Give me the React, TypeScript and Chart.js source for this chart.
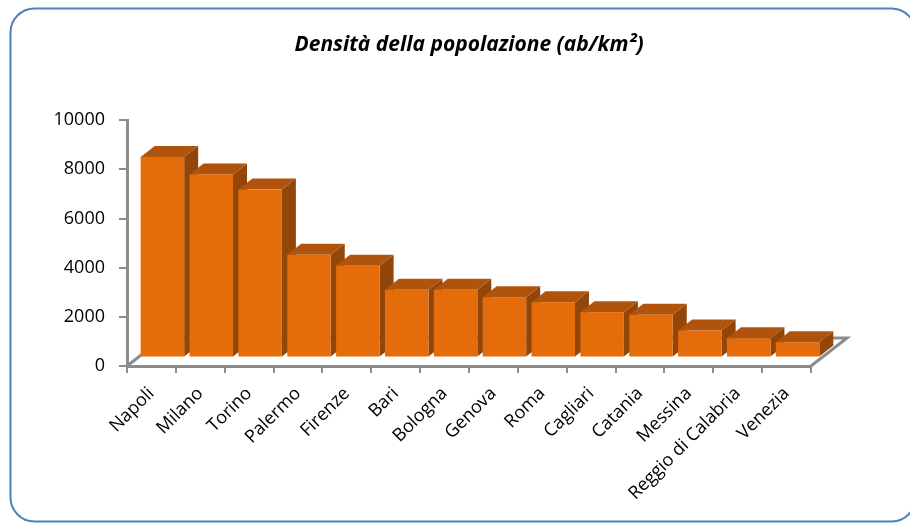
import React, { useEffect, useRef } from "react";
import { Chart, registerables } from "chart.js";

Chart.register(...registerables);

const categories = [
  "Napoli", "Milano", "Torino", "Palermo", "Firenze", "Bari", "Bologna",
  "Genova", "Roma", "Cagliari", "Catania", "Messina", "Reggio di Calabria", "Venezia",
];
const density = [8160, 7450, 6830, 4180, 3735, 2757, 2757, 2456, 2250, 1845, 1740, 1100, 786, 623];
const yTicks = [0, 2000, 4000, 6000, 8000, 10000];
const titleText = "Densità della popolazione (ab/km²)";

const FRONT = "#E46C0A";
const TOP = "#B0530C";
const SIDE = "#93460A";
const AXIS = "#8C8C8C";
const FONT = "'Open Sans'";

const bars3d = {
  id: "bars3d",
  beforeDraw(chart: any) {
    const ctx = chart.ctx;
    ctx.save();
    ctx.fillStyle = "#ffffff";
    ctx.fillRect(0, 0, chart.width, chart.height);
    const x = 10.5, y = 8.5, w = 905, h = 513, r = 24;
    ctx.beginPath();
    ctx.moveTo(x + r, y);
    ctx.lineTo(x + w - r, y);
    ctx.arcTo(x + w, y, x + w, y + r, r);
    ctx.lineTo(x + w, y + h - r);
    ctx.arcTo(x + w, y + h, x + w - r, y + h, r);
    ctx.lineTo(x + r, y + h);
    ctx.arcTo(x, y + h, x, y + h - r, r);
    ctx.lineTo(x, y + r);
    ctx.arcTo(x, y, x + r, y, r);
    ctx.closePath();
    ctx.strokeStyle = "#4F81BD";
    ctx.lineWidth = 2;
    ctx.stroke();
    ctx.restore();
  },
  afterDatasetsDraw(chart: any) {
    const ctx = chart.ctx;
    const area = chart.chartArea;
    const D = { x: 36, y: -28 };
    const F = { x: 11, y: -8.5 };
    const B = { x: 14, y: -11 };
    ctx.save();
    ctx.strokeStyle = AXIS;
    ctx.lineWidth = 3;
    ctx.beginPath();
    ctx.moveTo(area.left, area.bottom);
    ctx.lineTo(area.left + D.x, area.bottom + D.y);
    ctx.lineTo(area.right + D.x, area.bottom + D.y);
    ctx.lineTo(area.right, area.bottom);
    ctx.stroke();
    const meta = chart.getDatasetMeta(0);
    meta.data.forEach((el: any) => {
      const p = el.getProps(["x", "y", "base", "width"], true);
      const x0 = p.x - p.width / 2 + F.x;
      const x1 = p.x + p.width / 2 + F.x;
      const yt = p.y + F.y;
      const yb = p.base + F.y;
      ctx.fillStyle = SIDE;
      ctx.beginPath();
      ctx.moveTo(x1, yt);
      ctx.lineTo(x1 + B.x, yt + B.y);
      ctx.lineTo(x1 + B.x, yb + B.y);
      ctx.lineTo(x1, yb);
      ctx.closePath();
      ctx.fill();
      ctx.fillStyle = TOP;
      ctx.beginPath();
      ctx.moveTo(x0, yt);
      ctx.lineTo(x0 + B.x, yt + B.y);
      ctx.lineTo(x1 + B.x, yt + B.y);
      ctx.lineTo(x1, yt);
      ctx.closePath();
      ctx.fill();
      ctx.fillStyle = FRONT;
      ctx.fillRect(x0, yt, x1 - x0, yb - yt);
    });
    ctx.restore();
  },
};

export default function App() {
  const ref = useRef<HTMLCanvasElement>(null);
  useEffect(() => {
    if (!ref.current) return;
    const chart = new Chart(ref.current, {
      type: "bar",
      data: {
        labels: categories,
        datasets: [
          {
            label: "Densità",
            data: density,
            backgroundColor: "rgba(0,0,0,0)",
            borderWidth: 0,
            barPercentage: 0.89,
            categoryPercentage: 1,
          },
        ],
      },
      options: {
        responsive: false,
        animation: false,
        events: [],
        layout: { padding: { left: 0, right: 99, top: 0, bottom: 0 } },
        plugins: {
          legend: { display: false },
          tooltip: { enabled: false },
          title: {
            display: true,
            text: titleText,
            fullSize: false,
            color: "#000000",
            font: { family: FONT, size: 21, weight: "bold", style: "italic", lineHeight: 1.2 },
            padding: { top: 32, bottom: 63 },
          },
        },
        scales: {
          x: {
            grid: {
              display: true,
              drawOnChartArea: false,
              drawTicks: true,
              tickLength: 7,
              color: AXIS,
              lineWidth: 2,
              offset: true,
            },
            border: { display: true, color: AXIS, width: 3 },
            ticks: {
              color: "#000000",
              font: { family: FONT, size: 18 },
              minRotation: 45,
              maxRotation: 45,
              autoSkip: false,
              padding: 10,
            },
            afterFit(scale: any) {
              scale.height = 157;
            },
          },
          y: {
            min: 0,
            max: 10000,
            afterBuildTicks(scale: any) {
              scale.ticks = yTicks.map((v) => ({ value: v }));
            },
            grid: {
              display: true,
              drawOnChartArea: false,
              drawTicks: true,
              tickLength: 8,
              color: AXIS,
              lineWidth: 2,
            },
            border: { display: true, color: AXIS, width: 3 },
            ticks: {
              color: "#000000",
              font: { family: FONT, size: 18 },
              padding: 14,
              callback: (v: any) => String(v),
            },
            afterFit(scale: any) {
              scale.width = 127;
            },
          },
        },
      },
      plugins: [bars3d],
    });
    return () => chart.destroy();
  }, []);
  return (
    <div style={{ position: "fixed", left: 0, top: 0, width: 910, height: 523 }}>
      <canvas ref={ref} width={910} height={523} style={{ display: "block" }} />
    </div>
  );
}
